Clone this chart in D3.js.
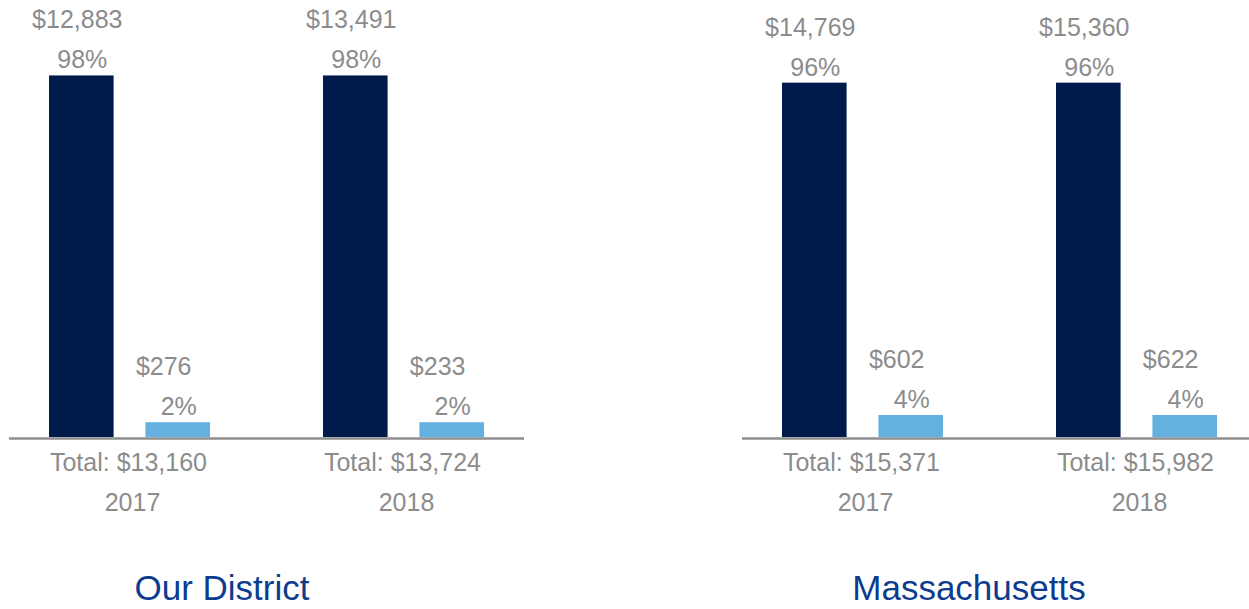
<!DOCTYPE html>
<html>
<head>
<meta charset="utf-8">
<script src="https://cdn.jsdelivr.net/npm/d3@7"></script>
<style>
  html, body { margin: 0; padding: 0; background: #ffffff; }
  svg { display: block; font-family: "Liberation Sans", Arial, Helvetica, sans-serif; }
</style>
</head>
<body>
<svg id="chart" width="1249" height="609"></svg>
<script>
// Per-pupil spending split, two comparison panels
const panels = ["Our District", "Massachusetts"];
const years = ["2017", "2018"];
const series = ["primary", "secondary"];

const primaryDollars   = [[12883, 13491], [14769, 15360]];
const primaryPct       = [[98, 98], [96, 96]];
const secondaryDollars = [[276, 233], [602, 622]];
const secondaryPct     = [[2, 2], [4, 4]];
const totals           = [[13160, 13724], [15371, 15982]];

const colors = { primary: "#001a4c", secondary: "#64b1df" };
const labelGray = "#8c8c8c";
const titleBlue = "#0d3c8f";

const svg = d3.select("#chart");
const fmt = d3.format("$,");

// layout
const panelOffsets = [0, 733];
const titleX = [222, 969];
const baseY = 437;
const fontSize = 25;

const x0 = d3.scaleBand().domain(years).range([9, 524])
  .paddingInner(0.4124).paddingOuter(0.146);
const x1 = d3.scaleBand().domain(series).range([0, x0.bandwidth()])
  .paddingInner(0.33);
const y = d3.scaleLinear().domain([-2.1, 100]).range([baseY, 68.2]);

panels.forEach((name, pi) => {
  const g = svg.append("g").attr("transform", `translate(${panelOffsets[pi]},0)`);

  const rows = years.map((yr, yi) => ({
    year: yr,
    total: totals[pi][yi],
    bars: [
      { key: "primary", dollars: primaryDollars[pi][yi], pct: primaryPct[pi][yi] },
      { key: "secondary", dollars: secondaryDollars[pi][yi], pct: secondaryPct[pi][yi] }
    ]
  }));

  const groups = g.selectAll("g.year").data(rows).join("g")
    .attr("class", "year")
    .attr("transform", d => `translate(${x0(d.year)},0)`);

  groups.selectAll("rect").data(d => d.bars).join("rect")
    .attr("x", d => x1(d.key))
    .attr("width", x1.bandwidth())
    .attr("y", d => y(d.pct))
    .attr("height", d => y(y.domain()[0]) - y(d.pct))
    .attr("fill", d => colors[d.key]);

  // percent labels
  groups.selectAll("text.pct").data(d => d.bars).join("text")
    .attr("class", "pct")
    .attr("x", d => x1(d.key) + x1.bandwidth() / 2 + 1)
    .attr("y", d => y(d.pct) - 7)
    .attr("text-anchor", "middle")
    .attr("font-size", fontSize)
    .attr("fill", labelGray)
    .text(d => d.pct + "%");

  // dollar labels
  groups.selectAll("text.dollars").data(d => d.bars).join("text")
    .attr("class", "dollars")
    .attr("x", d => x1(d.key) + x1.bandwidth() / 2 + (d.key === "primary" ? -4 : -14))
    .attr("y", d => y(d.pct) - 47)
    .attr("text-anchor", "middle")
    .attr("font-size", fontSize)
    .attr("fill", labelGray)
    .text(d => fmt(d.dollars));

  // baseline
  g.append("line")
    .attr("x1", x0.range()[0]).attr("x2", x0.range()[1])
    .attr("y1", baseY + 1.5).attr("y2", baseY + 1.5)
    .attr("stroke", "#8e8e8e").attr("stroke-width", 2.6);

  // totals and years under each group
  groups.append("text")
    .attr("x", x0.bandwidth() / 2 - 1)
    .attr("y", 471)
    .attr("text-anchor", "middle")
    .attr("font-size", fontSize)
    .attr("fill", labelGray)
    .text(d => "Total: " + fmt(d.total));

  groups.append("text")
    .attr("x", x0.bandwidth() / 2 + 3)
    .attr("y", 511)
    .attr("text-anchor", "middle")
    .attr("font-size", fontSize)
    .attr("fill", labelGray)
    .text(d => d.year);

  // panel title
  svg.append("text")
    .attr("x", titleX[pi])
    .attr("y", 600)
    .attr("text-anchor", "middle")
    .attr("font-size", 35)
    .attr("fill", titleBlue)
    .text(name);
});
</script>
</body>
</html>
